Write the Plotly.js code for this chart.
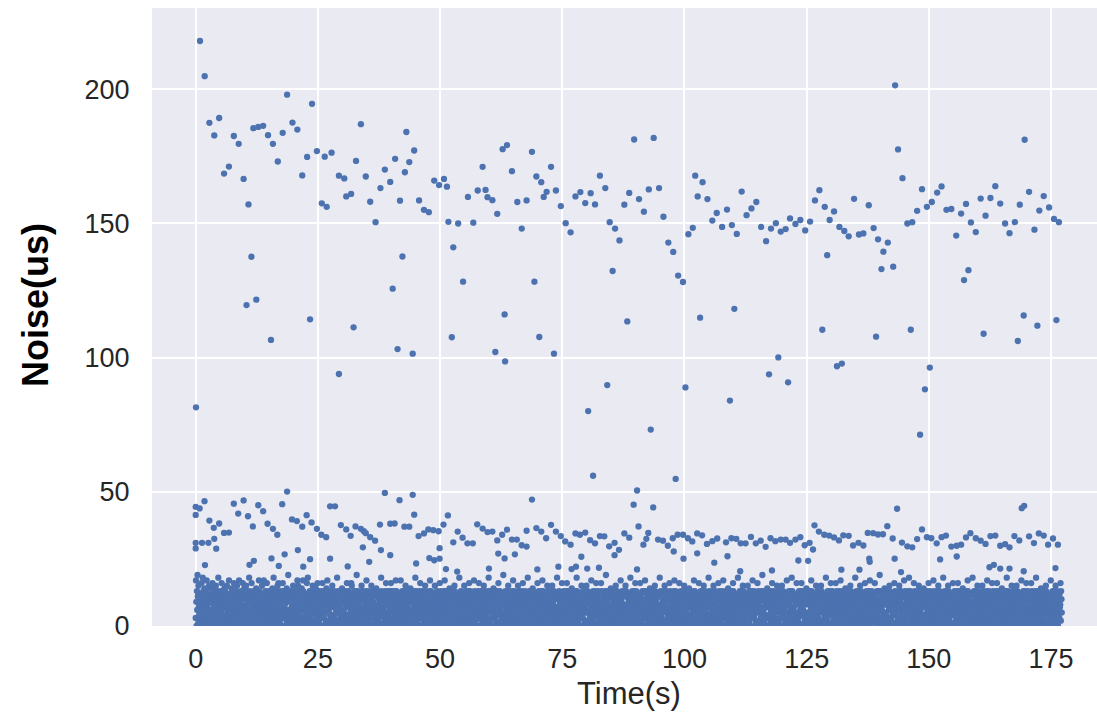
<!DOCTYPE html>
<html>
<head>
<meta charset="utf-8">
<script src="https://cdn.plot.ly/plotly-3.0.1.min.js"></script>
<style>
  html, body { margin: 0; padding: 0; background: #ffffff; }
  #chart { width: 1097px; height: 714px; }
</style>
</head>
<body>
<div id="chart"></div>
<script>
// Large latency spikes (s, us)
const spikeTime = [
  0.06, 0.88, 1.84, 2.8, 3.8, 4.8, 5.8, 6.8, 7.8, 8.8,
  9.8, 10.4, 10.8, 11.4, 11.8, 12.4, 12.8, 13.8, 14.8, 15.4,
  15.8, 16.8, 17.8, 18.7, 19.8, 20.8, 21.8, 22.8, 23.4, 23.8,
  24.8, 25.8, 26.4, 26.8, 27.8, 29.3, 29.3, 30.4, 30.8, 31.8,
  32.3, 32.8, 33.8, 34.8, 35.7, 36.8, 37.8, 38.7, 39.8, 40.3,
  40.8, 41.3, 41.8, 42.3, 42.8, 43.1, 43.7, 44.4, 44.7, 45.7,
  46.7, 47.7, 48.8, 49.8, 50.8, 51.4, 51.7, 52.4, 52.7, 53.7,
  54.7, 55.7, 56.8, 57.7, 58.7, 59.3, 59.7, 60.7, 61.3, 61.7,
  62.8, 63.2, 63.3, 63.7, 64.7, 65.8, 66.7, 67.7, 68.8, 69.3,
  69.7, 70.3, 70.7, 71.2, 71.8, 72.7, 73.3, 73.7, 74.7, 75.7,
  76.7, 77.7, 78.7, 79.7, 80.3, 80.8, 81.7, 82.7, 83.8, 84.2,
  84.7, 85.3, 85.8, 86.7, 87.7, 88.3, 88.7, 89.7, 90.7, 91.7,
  92.7, 93.1, 93.7, 94.8, 95.7, 96.7, 97.7, 98.7, 99.7, 100.2,
  100.8, 101.7, 102.2, 102.7, 103.2, 103.7, 104.7, 105.7, 106.6, 107.7,
  108.7, 109.3, 109.7, 110.2, 110.7, 111.7, 112.7, 113.7, 114.7, 115.7,
  116.7, 117.3, 117.7, 118.7, 119.2, 119.7, 120.7, 121.2, 121.6, 122.7,
  123.7, 124.7, 125.7, 126.7, 127.6, 128.2, 128.7, 129.2, 129.7, 130.6,
  131.2, 131.7, 132.2, 132.7, 133.6, 134.7, 135.7, 136.6, 137.7, 138.7,
  139.2, 139.6, 140.3, 140.7, 141.6, 142.7, 143.1, 143.7, 144.6, 145.6,
  146.3, 146.6, 147.6, 148.2, 148.6, 149.2, 149.6, 150.2, 150.6, 151.7,
  152.6, 153.6, 154.6, 155.6, 156.6, 157.2, 157.6, 158.1, 158.6, 159.6,
  160.6, 161.2, 161.6, 162.6, 163.6, 164.6, 165.6, 166.5, 167.6, 168.2,
  168.6, 169.4, 169.6, 170.5, 171.6, 172.2, 172.6, 173.5, 174.6, 175.6,
  176.1, 176.6
];
const spikeNoise = [
  81.5, 218.0, 204.9, 187.5, 182.8, 189.3, 168.6, 171.2, 182.6, 179.7,
  166.6, 119.6, 157.1, 137.6, 185.5, 121.6, 186.0, 186.4, 182.9, 106.6,
  179.7, 173.1, 183.8, 198.0, 187.6, 185.0, 167.9, 174.8, 114.3, 194.6,
  177.0, 157.5, 174.9, 156.2, 176.4, 167.8, 93.9, 166.8, 160.1, 161.0,
  111.3, 173.3, 187.0, 167.5, 158.1, 150.5, 163.2, 170.1, 165.5, 125.7,
  174.1, 103.2, 158.5, 137.7, 169.1, 184.1, 172.9, 101.5, 177.2, 158.6,
  155.1, 154.2, 166.0, 164.3, 166.6, 163.7, 150.6, 107.6, 141.1, 150.0,
  128.3, 159.9, 150.3, 162.3, 171.1, 162.5, 159.8, 158.7, 102.1, 153.6,
  177.7, 116.1, 98.6, 179.2, 169.5, 158.0, 148.1, 158.6, 176.7, 128.3,
  167.5, 107.7, 165.4, 159.9, 161.8, 171.1, 101.5, 162.3, 156.5, 150.1,
  146.7, 160.1, 161.7, 157.6, 80.1, 161.3, 157.1, 167.8, 163.2, 89.8,
  150.5, 132.3, 148.1, 143.7, 157.0, 113.5, 161.4, 181.3, 159.1, 154.4,
  162.7, 73.2, 181.9, 163.2, 152.5, 142.9, 139.4, 130.6, 128.2, 88.9,
  146.0, 148.4, 167.8, 160.1, 114.9, 165.4, 159.1, 151.1, 153.9, 148.7,
  155.2, 84.0, 149.4, 118.2, 146.1, 161.9, 153.1, 155.6, 158.0, 148.7,
  143.4, 93.8, 148.1, 150.1, 100.1, 147.0, 147.9, 90.8, 151.9, 149.8,
  151.3, 147.4, 150.7, 158.6, 162.4, 110.4, 156.2, 138.2, 151.3, 154.5,
  96.8, 148.7, 97.8, 147.2, 145.2, 159.2, 145.9, 146.3, 156.8, 148.3,
  107.8, 144.1, 133.0, 139.5, 142.9, 133.9, 201.5, 177.6, 166.9, 150.0,
  110.4, 150.5, 154.7, 71.3, 162.8, 88.2, 156.2, 96.3, 158.0, 161.5,
  163.8, 155.1, 155.4, 145.5, 153.7, 128.9, 157.3, 132.6, 150.4, 146.8,
  159.3, 108.9, 152.9, 159.5, 163.9, 157.4, 150.0, 146.4, 150.5, 106.2,
  157.0, 115.7, 181.2, 161.8, 147.7, 111.9, 154.8, 160.2, 156.0, 151.7,
  114.0, 150.5
];

// Medium bursts around 20-56 us (s, us)
const burstTime = [
  18.7, 1.8, 0.0, 0.8, 0.0, 7.8, 9.8, 8.7, 10.7, 12.8,
  13.8, 17.7, 2.8, 4.8, 3.7, 5.8, 6.8, 11.7, 14.7, 15.8,
  16.7, 19.7, 20.7, 21.8, 22.7, 23.7, 24.8, 25.7, 26.7, 27.5,
  28.5, 29.7, 0.0, 0.0, 1.3, 2.6, 3.8, 4.2, 20.9, 18.2,
  15.5, 11.9, 11.0, 17.0, 23.4, 22.0, 27.5, 1.9,

  38.7, 44.4, 41.7, 44.7, 51.6, 30.8, 31.7, 32.7, 33.8, 34.4,
  34.8, 35.7, 36.7, 37.7, 39.8, 40.7, 42.7, 43.7, 45.6, 46.7,
  47.6, 48.6, 49.7, 50.7, 53.6, 54.6, 55.6, 56.7, 52.7, 57.6,
  58.7, 59.7, 60.7, 61.7, 62.7, 63.7, 64.7, 65.7, 66.7, 67.7,
  67.7, 34.2, 37.9, 39.8, 35.5, 49.9, 47.8, 48.8, 49.9, 45.1,
  61.9, 63.2, 65.3, 31.1, 51.2, 53.5, 60.0,

  81.3, 98.2, 90.3, 68.8, 89.6, 93.6, 90.6, 69.7, 70.7, 71.7,
  72.7, 73.7, 74.7, 75.6, 76.7, 77.7, 78.6, 79.7, 80.7, 81.7,
  82.7, 83.6, 84.6, 85.7, 86.6, 85.7, 87.7, 88.7, 91.6, 92.2,
  92.6, 94.6, 95.6, 96.6, 97.6, 98.6, 99.7, 100.7, 101.6, 97.8,
  99.8, 102.6, 103.6, 102.6, 104.6, 105.7, 106.7, 106.1, 78.9, 74.2,
  77.8, 76.9, 80.1, 82.5, 90.3, 69.9,

  143.5, 126.6, 108.5, 109.6, 110.6, 111.5, 112.5, 113.6, 114.6, 115.6,
  116.6, 117.6, 118.6, 119.7, 120.7, 121.6, 122.7, 123.7, 124.6, 125.6,
  126.3, 108.8, 123.3, 125.3, 127.5, 128.6, 129.6, 130.6, 131.6, 132.5,
  133.6, 134.5, 135.6, 136.6, 137.5, 138.6, 139.6, 140.6, 141.5, 142.6,
  144.5, 145.6, 137.8, 137.9, 143.0, 117.9, 132.1, 135.8, 144.3, 111.4,

  169.0, 169.5, 148.6, 147.6, 146.6, 149.6, 150.5, 151.6, 152.6, 153.5,
  154.6, 155.7, 156.6, 157.6, 158.5, 159.6, 160.6, 161.6, 162.6, 163.6,
  164.6, 165.6, 166.5, 167.5, 168.5, 170.5, 171.5, 172.5, 173.5, 174.4,
  175.4, 176.4, 152.3, 155.7, 162.4, 163.3, 164.6, 166.5, 169.4, 175.9
];
const burstNoise = [
  50.1, 46.5, 44.4, 43.8, 41.4, 45.6, 46.8, 41.9, 40.9, 45.0,
  42.8, 45.4, 39.3, 38.2, 36.6, 34.7, 34.8, 37.1, 38.1, 36.2,
  34.0, 39.7, 39.1, 37.0, 41.3, 38.6, 36.2, 34.0, 33.1, 44.6,
  44.6, 37.6, 31.0, 28.9, 31.0, 31.0, 32.5, 28.8, 28.3, 26.7,
  25.2, 24.3, 22.8, 22.4, 24.9, 22.1, 25.1, 22.7,

  49.6, 48.9, 46.9, 41.5, 41.2, 36.0, 33.6, 37.1, 36.2, 35.3,
  34.6, 33.1, 31.8, 37.8, 38.1, 38.2, 37.0, 37.0, 33.5, 34.5,
  36.0, 35.7, 35.3, 37.8, 35.2, 32.9, 30.8, 30.8, 31.2, 37.9,
  36.3, 35.0, 35.2, 31.9, 34.0, 35.9, 32.2, 32.2, 30.1, 29.6,
  35.5, 29.3, 28.3, 26.4, 23.9, 29.0, 25.3, 24.5, 25.1, 23.3,
  27.0, 25.2, 26.7, 22.2, 21.2, 20.3, 21.4,

  56.0, 54.8, 50.5, 47.1, 45.2, 44.2, 37.1, 36.5, 35.2, 32.7,
  37.7, 35.2, 33.5, 31.5, 30.3, 34.5, 34.0, 34.8, 32.0, 30.8,
  33.5, 33.4, 29.7, 31.0, 28.4, 26.4, 34.5, 32.9, 30.3, 32.5,
  34.7, 32.2, 31.8, 29.9, 32.7, 34.0, 34.0, 32.7, 31.5, 27.8,
  25.1, 34.5, 33.8, 27.1, 30.6, 31.6, 32.6, 23.6, 25.8, 22.1,
  22.1, 21.2, 21.4, 21.7, 21.1, 21.1,

  43.7, 37.5, 31.2, 32.7, 32.5, 30.8, 30.8, 33.2, 30.8, 31.8,
  29.5, 32.7, 31.6, 32.2, 32.2, 31.0, 32.2, 33.1, 30.1, 31.0,
  28.5, 26.0, 24.4, 24.3, 35.2, 34.0, 33.7, 33.0, 31.9, 33.8,
  33.6, 30.0, 31.0, 30.0, 34.7, 34.6, 34.1, 34.2, 37.2, 32.6,
  31.1, 29.7, 25.1, 23.9, 25.1, 20.7, 21.0, 21.0, 20.1, 20.4,

  43.9, 44.8, 36.0, 32.4, 29.3, 33.1, 32.7, 30.8, 33.1, 33.7,
  29.6, 29.9, 30.3, 33.0, 34.6, 32.7, 31.8, 30.6, 33.5, 33.7,
  29.9, 30.5, 29.3, 33.5, 31.9, 33.4, 30.9, 34.5, 33.7, 30.3,
  32.6, 30.3, 24.8, 25.9, 21.9, 22.8, 21.4, 21.4, 20.4, 21.6
];

// Baseline noise, sampled every 0.0625 s (one line = one second, 16 samples)
const baselineStep = 0.0625;
const baseline000 = [
  3,17,9,0,13,6,19,11,1,15,7,4,12,10,2,8,
  12,5,0,16,8,2,11,18,6,13,3,9,1,14,10,4,
  7,0,13,4,17,10,2,8,12,5,11,1,15,9,3,6,
  1,11,6,14,3,9,0,16,12,5,8,13,2,10,7,4,
  10,2,15,7,0,12,5,13,3,9,18,1,11,6,8,4,
  5,13,1,10,6,16,3,8,0,12,9,4,11,2,14,7,
  13,4,9,0,11,2,15,6,10,1,12,7,3,17,5,8,
  0,9,12,5,2,14,7,11,4,13,1,10,6,16,3,8,
  8,1,11,13,4,6,0,15,9,3,12,5,10,2,17,7,
  11,6,3,9,13,0,8,2,12,5,16,1,7,10,4,14,
  2,12,7,0,10,15,4,13,8,1,11,6,3,9,5,18,
  9,4,13,6,1,11,3,16,0,12,7,2,10,5,8,13,
  6,10,1,12,8,3,14,0,11,5,13,9,2,7,4,17,
  13,3,8,11,0,6,12,2,9,15,4,10,1,7,5,17,
  4,12,0,9,13,7,2,10,5,16,11,1,8,3,6,13,
  10,7,2,13,5,0,11,8,3,12,6,14,1,9,4,18,
  0,8,11,3,12,9,1,6,13,4,10,2,15,7,5,16,
  12,2,6,10,1,13,8,4,0,11,5,9,3,16,7,13,
  7,13,3,11,8,0,12,5,10,2,14,6,1,9,4,19,
  3,10,13,1,6,11,4,0,9,13,7,2,12,5,8,15,
  11,0,9,5,12,3,7,13,1,10,6,2,8,17,4,15,
  5,12,1,8,13,4,10,0,11,6,3,14,9,2,7,17,
  13,6,10,2,0,9,12,4,7,1,11,5,16,8,3,18,
  1,9,4,12,7,13,0,10,3,8,2,11,6,13,5,15,
  8,13,11,0,5,2,12,6,9,14,4,1,10,3,7,16
];
const baseline025 = [
  2,11,5,13,9,1,7,12,0,10,4,8,3,13,6,16,
  12,4,0,10,3,13,8,6,11,1,9,5,14,2,7,17,
  6,13,9,1,11,5,2,12,4,0,10,7,13,3,8,15,
  10,1,12,4,8,0,13,3,7,11,2,6,12,9,5,18,
  0,7,13,11,2,10,5,1,12,8,4,13,3,9,6,14,
  13,5,3,9,12,6,0,11,2,10,8,1,13,4,7,16,
  4,12,8,1,10,13,3,7,0,11,5,9,2,16,6,15,
  9,2,11,6,0,12,4,13,8,1,10,3,13,5,7,19,
  12,8,1,13,5,3,10,0,9,6,11,2,12,4,7,15,
  3,13,6,10,12,0,7,2,11,4,9,1,13,8,5,17,
  11,1,10,4,7,13,2,9,0,12,6,3,12,5,8,15,
  7,10,0,12,3,9,13,5,1,11,4,8,2,13,6,14,
  0,12,5,2,13,8,11,3,10,6,1,9,12,4,7,18,
  13,4,9,11,1,6,0,12,7,3,10,5,13,2,8,16,
  5,11,2,8,13,0,10,4,12,1,9,6,3,13,7,16,
  10,0,13,3,6,12,8,1,11,5,2,13,9,4,7,17,
  2,13,7,12,0,10,4,11,6,1,9,3,12,5,8,17,
  12,6,1,9,13,3,11,0,8,10,4,13,2,7,5,15,
  8,3,12,0,10,5,13,7,1,11,6,2,12,9,4,14,
  1,10,6,13,4,12,0,9,11,3,8,5,13,2,7,18,
  11,5,13,2,9,7,1,12,4,0,10,6,3,13,8,16,
  6,12,0,10,3,13,8,5,12,2,11,1,9,4,7,15,
  13,2,8,4,11,0,12,6,9,3,1,10,5,13,7,17,
  4,9,13,1,7,12,3,10,0,11,5,8,2,12,6,15,
  9,0,11,6,12,4,13,2,10,7,1,12,3,8,5,16
];
const baseline050 = [
  0,13,4,9,2,11,6,12,8,1,10,5,13,3,7,17,
  12,7,2,13,10,0,5,9,3,11,6,1,12,4,8,14,
  5,10,13,0,8,3,12,6,1,9,11,2,13,7,4,15,
  13,1,6,11,4,12,9,0,10,5,2,8,12,3,7,18,
  3,12,9,5,13,1,7,10,0,11,4,6,12,2,8,15,
  10,4,0,12,6,13,2,8,11,3,9,1,13,5,7,16,
  7,11,3,13,0,9,12,5,2,10,6,1,12,4,8,17,
  1,13,10,6,12,2,8,0,11,4,9,3,13,7,5,16,
  12,0,5,9,3,13,7,11,6,1,10,2,12,8,4,15,
  8,6,13,2,11,0,12,4,9,3,10,5,1,13,7,18,
  2,12,7,10,1,13,5,9,0,11,6,3,12,4,8,14,
  13,3,11,0,8,6,12,2,10,4,1,9,13,5,7,16,
  6,9,1,12,13,4,0,10,7,2,11,5,12,3,8,19,
  11,0,12,5,3,10,13,7,1,8,4,12,2,9,6,15,
  4,13,8,1,10,12,6,0,11,3,9,2,13,5,7,17,
  9,5,2,13,0,11,3,12,8,6,1,10,12,4,7,15,
  0,10,13,7,4,2,12,9,5,11,1,6,13,3,8,16,
  12,3,6,11,9,0,13,1,10,4,7,2,12,5,8,18,
  5,12,0,9,13,7,2,11,3,10,6,1,13,4,8,14,
  13,8,4,1,12,5,10,0,11,2,9,6,12,3,7,16,
  1,11,9,13,6,3,12,4,0,10,5,8,13,2,7,17,
  10,2,13,4,11,8,0,12,6,1,9,3,12,5,7,15,
  7,13,5,0,12,10,3,9,1,11,4,6,13,2,8,15,
  3,9,12,8,1,13,6,0,10,5,11,2,12,4,7,18,
  12,1,7,11,4,0,13,5,9,3,10,6,12,2,8,16
];
const baseline075 = [
  6,12,2,10,13,4,1,9,0,11,5,8,13,3,7,16,
  11,4,13,0,7,12,9,2,5,10,1,6,12,3,8,14,
  0,13,8,5,10,3,12,6,11,1,9,4,13,2,7,18,
  13,6,1,12,2,9,11,0,8,4,10,5,12,3,7,15,
  4,10,12,3,13,0,7,11,1,9,6,2,13,5,8,15,
  9,2,11,13,5,1,12,8,0,10,4,6,12,3,7,17,
  2,12,6,0,11,13,3,9,7,1,10,5,13,4,8,16,
  12,7,0,10,3,11,13,4,9,2,6,1,12,5,8,16,
  8,13,4,12,1,6,0,10,11,3,9,2,13,5,7,19,
  5,0,13,9,12,2,10,6,1,11,4,7,12,3,8,14,
  13,11,3,6,0,12,8,1,10,4,9,2,13,5,7,15,
  1,8,12,13,4,10,2,11,6,0,9,3,12,5,7,17,
  10,5,9,2,13,7,12,0,3,11,1,6,13,4,8,15,
  6,13,1,11,8,3,12,5,0,10,4,9,12,2,7,18,
  12,3,10,7,0,13,5,9,11,1,6,2,13,4,8,16,
  3,12,13,0,9,6,1,11,8,4,10,5,12,2,7,16,
  11,1,5,12,10,2,13,7,0,9,3,8,13,4,6,17,
  7,10,0,13,3,12,4,9,1,11,5,2,12,6,8,14,
  0,6,12,4,11,9,13,2,10,3,8,1,13,5,7,15,
  13,9,2,10,5,0,11,12,4,7,1,6,12,3,8,18,
  4,11,13,1,12,7,3,0,9,10,5,2,13,6,8,15,
  9,0,8,12,2,13,6,10,1,11,4,3,12,5,7,16,
  2,13,11,5,9,1,12,4,7,0,10,6,13,3,8,17,
  12,4,1,13,6,10,0,8,11,2,9,5,12,3,7,16,
  8,12,10,0,13,3,5,11,1,9,6,2,13,4,7,15
];
const baseline100 = [
  5,1,12,9,11,0,13,6,3,10,4,8,12,2,7,14,
  13,10,4,2,0,12,7,11,9,1,5,3,13,6,8,17,
  1,7,13,11,5,9,2,12,0,10,3,6,12,4,8,16,
  10,3,0,12,8,13,4,1,11,6,9,2,13,5,7,15,
  6,12,9,3,13,1,11,5,0,10,2,7,12,4,8,18,
  12,2,13,7,4,10,0,9,11,3,6,1,13,5,8,15,
  3,11,5,0,12,8,13,2,9,1,10,6,12,4,7,16,
  11,8,1,13,10,2,6,12,4,0,9,3,13,5,7,17,
  7,0,12,4,9,11,3,13,1,10,5,2,12,6,8,14,
  0,13,3,10,6,12,9,1,11,4,8,2,13,5,7,16,
  13,5,11,1,12,3,0,10,7,9,2,6,12,4,8,18,
  4,12,7,9,2,13,10,0,11,1,5,3,13,6,8,15,
  9,3,13,0,11,6,12,4,1,10,8,2,12,5,7,15,
  2,10,0,12,5,1,13,8,9,3,11,6,13,4,7,17,
  12,6,10,3,13,4,8,0,11,2,9,1,12,5,7,16,
  8,1,13,11,0,9,2,12,5,10,3,6,13,4,7,19,
  5,13,2,6,12,10,1,9,0,11,4,3,12,8,7,14,
  13,0,9,12,3,7,11,4,10,1,5,2,13,6,8,16,
  1,12,4,8,10,13,0,6,11,3,9,2,12,5,7,15,
  10,6,12,1,13,2,5,11,0,9,3,8,13,4,7,15,
  6,11,0,13,4,9,12,3,10,1,7,2,12,5,8,17,
  12,4,8,2,11,0,13,10,1,9,5,3,13,6,7,18,
  3,13,10,6,1,12,7,0,11,4,9,2,12,5,8,16,
  11,2,5,12,9,3,0,13,8,10,1,6,13,4,7,16,
  7,12,13,0,10,6,4,9,1,11,3,2,12,5,8,14
];
const baseline125 = [
  0,9,2,11,13,5,12,1,10,4,8,3,13,6,7,17,
  13,7,12,4,0,10,1,11,9,3,6,2,12,5,8,15,
  4,10,1,13,8,12,3,6,0,11,5,2,13,9,7,15,
  9,13,6,0,12,2,11,5,10,1,4,3,12,7,8,18,
  2,5,12,10,3,13,0,9,11,6,1,4,13,8,7,16,
  12,11,0,7,13,4,9,2,10,1,5,3,12,6,8,16,
  8,3,13,12,1,6,10,0,11,4,9,2,13,5,7,17,
  5,12,9,2,11,0,13,7,1,10,3,6,12,4,8,14,
  13,1,4,11,10,12,2,6,0,9,5,3,13,7,8,15,
  1,13,11,5,0,9,12,3,10,4,7,2,12,6,8,18,
  10,0,7,13,12,3,5,11,1,9,4,2,13,6,8,15,
  6,9,13,1,4,12,11,0,10,3,5,2,12,7,8,16,
  12,5,2,10,13,0,8,4,11,1,9,3,13,6,7,17,
  3,12,0,9,6,13,1,11,10,4,5,2,12,7,8,16,
  11,7,12,4,2,10,13,1,0,9,5,3,13,6,8,19,
  7,2,10,13,11,1,6,12,3,9,0,4,12,5,8,14,
  0,12,5,8,13,4,10,2,11,1,9,3,13,6,7,15,
  13,3,11,0,9,12,2,7,10,4,5,1,12,6,8,16,
  4,13,8,12,1,5,11,0,9,10,2,3,13,6,7,15,
  9,1,12,6,10,13,0,4,11,3,5,2,12,7,8,17,
  2,11,13,3,7,0,12,9,1,10,4,5,13,6,8,18,
  12,8,4,11,13,2,9,1,0,10,5,3,12,6,7,16,
  8,0,13,10,3,12,5,11,1,9,4,2,13,6,7,15,
  5,12,1,13,9,6,10,3,11,0,4,2,12,7,8,14,
  13,4,10,2,12,0,7,11,9,1,5,3,13,6,8,16
];
const baseline150 = [
  1,10,12,9,5,13,3,0,11,4,7,2,12,6,8,17,
  10,13,2,7,0,11,12,4,1,9,5,3,13,6,8,15,
  6,0,11,13,12,3,9,1,10,4,5,2,12,7,8,18,
  12,9,5,1,13,10,0,8,11,3,4,2,13,6,7,15,
  3,13,7,12,2,9,11,0,10,1,5,4,12,6,8,16,
  11,4,0,10,13,6,1,12,9,2,5,3,13,7,8,16,
  7,12,13,3,1,11,10,5,0,9,4,2,12,6,8,14,
  0,5,9,12,11,2,13,7,10,1,4,3,13,6,8,17,
  13,11,1,6,10,12,4,0,9,2,5,3,12,7,8,18,
  4,8,12,0,13,9,2,11,1,10,5,3,13,6,7,15,
  9,12,3,13,7,1,11,10,0,4,5,2,12,6,8,15,
  2,13,10,4,12,0,6,9,11,1,5,3,13,7,8,17,
  12,1,7,11,3,13,9,0,10,4,5,2,12,6,8,16,
  8,10,13,2,0,12,4,11,1,9,5,3,13,6,7,16,
  5,13,0,9,12,11,3,7,10,1,4,2,12,6,8,14,
  13,2,12,5,10,1,8,4,0,11,9,3,13,6,7,18,
  1,9,11,13,4,7,12,0,10,2,5,3,12,6,8,15,
  10,12,4,0,13,3,11,9,1,6,5,2,13,7,8,15,
  6,3,13,12,9,0,2,10,11,1,5,4,12,7,8,17,
  12,11,8,1,5,13,10,3,0,9,4,2,13,6,7,16,
  3,0,12,10,13,6,1,11,9,4,5,2,12,7,8,16,
  11,13,5,2,12,9,0,4,10,1,6,3,13,7,8,18,
  7,4,10,13,1,12,11,0,9,2,5,3,12,6,8,14,
  0,12,13,6,3,10,9,1,11,4,5,2,13,7,8,15,
  13,8,2,11,12,0,5,10,1,9,4,3,12,6,7,17,
  4,11,12,9,0,13,3,6,10,1,5,2,13,7,8,15,
  9,6,1,12,13,4,11,0,10,2,5,3,12,7,8,16,
  2,13,10,5
];

const baselineNoise = [].concat(baseline000, baseline025, baseline050,
  baseline075, baseline100, baseline125, baseline150);
const baselineTime = baselineNoise.map((_, i) => i * baselineStep);

const xTicks = [0, 25, 50, 75, 100, 125, 150, 175];
const yTicks = [0, 50, 100, 150, 200];

const dotStyle = { size: 6.3, color: '#4C72B0', line: { width: 0 } };

const traces = [
  { x: baselineTime, y: baselineNoise, type: 'scatter', mode: 'markers', marker: dotStyle, hoverinfo: 'skip' },
  { x: burstTime, y: burstNoise, type: 'scatter', mode: 'markers', marker: dotStyle, hoverinfo: 'skip' },
  { x: spikeTime, y: spikeNoise, type: 'scatter', mode: 'markers', marker: dotStyle, hoverinfo: 'skip' }
];

const sansFamily = 'Liberation Sans, Arial, sans-serif';
const tickFont = { family: sansFamily, size: 27, color: '#262626' };

const layout = {
  width: 1097,
  height: 714,
  margin: { l: 152, r: 0, t: 8, b: 88, pad: 0 },
  paper_bgcolor: '#ffffff',
  plot_bgcolor: '#EAEAF2',
  showlegend: false,
  font: { family: sansFamily, color: '#262626' },
  xaxis: {
    range: [-8.94, 184.4],
    tickvals: xTicks,
    ticktext: xTicks.map(String),
    tickfont: tickFont,
    ticks: 'outside', ticklen: 9, tickcolor: 'rgba(0,0,0,0)',
    showgrid: true, gridcolor: '#ffffff', gridwidth: 2,
    zeroline: false, showline: false,
    automargin: false
  },
  yaxis: {
    range: [0, 230.3],
    tickvals: yTicks,
    ticktext: yTicks.map(String),
    tickfont: tickFont,
    ticks: 'outside', ticklen: 16, tickcolor: 'rgba(0,0,0,0)',
    showgrid: true, gridcolor: '#ffffff', gridwidth: 2,
    zeroline: false, showline: false,
    automargin: false
  },
  annotations: [
    {
      text: 'Time(s)', showarrow: false,
      xref: 'paper', yref: 'paper', x: 0.5, y: 0,
      xanchor: 'center', yanchor: 'middle', xshift: 4, yshift: -67,
      font: { family: sansFamily, size: 31, color: '#262626' }
    },
    {
      text: 'Noise(us)', showarrow: false, textangle: -90,
      xref: 'paper', yref: 'paper', x: 0, y: 0.5,
      xanchor: 'center', yanchor: 'middle', xshift: -117, yshift: 12,
      font: { family: sansFamily, size: 36, color: '#000000', weight: 'bold' }
    }
  ]
};

Plotly.newPlot('chart', traces, layout, { displayModeBar: false, staticPlot: true });
</script>
</body>
</html>
